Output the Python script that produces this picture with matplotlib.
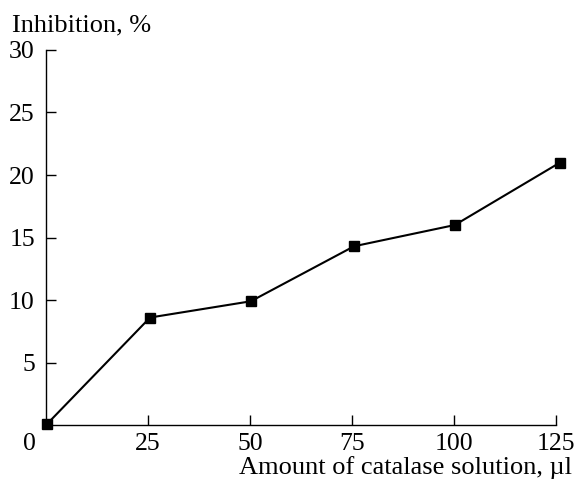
import matplotlib
matplotlib.use("Agg")
import matplotlib.pyplot as plt

# catalase volume (µl) vs inhibition (%)
volume = [0.3, 25.5, 50.2, 75.5, 100.2, 126.0]
inhibition = [0.1, 8.6, 9.9, 14.3, 16.0, 21.0]

x_ticks = [25, 50, 75, 100, 125]
y_ticks = [5, 10, 15, 20, 25, 30]

plt.rcParams["font.family"] = ["Liberation Serif", "DejaVu Serif"]
plt.rcParams["font.size"] = 19

fig = plt.figure(figsize=(5.76, 4.83), dpi=100)
ax = fig.add_axes([0.0799, 0.120, 0.8854, 0.7765])

ax.plot(volume, inhibition, "-s", color="black", linewidth=1.5,
        markersize=7.5, clip_on=False, zorder=3)

ax.set_xlim(0, 125)
ax.set_ylim(0, 30)
ax.set_xticks(x_ticks)
ax.set_yticks(y_ticks)
ax.tick_params(direction="in", length=7, width=1.0, labelsize=18.5, pad=6)
ax.tick_params(axis="y", pad=8)
ax.spines[["top", "right"]].set_visible(False)
for s in ("left", "bottom"):
    ax.spines[s].set_linewidth(1.0)

# shared origin label
ax.annotate("0", xy=(0, 0), xycoords="data", xytext=(-12, -6),
            textcoords="offset points", ha="center", va="top", fontsize=18.5)

fig.text(0.021, 0.934, "Inhibition, %", ha="left", va="baseline", fontsize=19)
fig.text(0.993, 0.019, "Amount of catalase solution, µl", ha="right",
         va="baseline", fontsize=19)

fig.savefig("out.png", dpi=100)
